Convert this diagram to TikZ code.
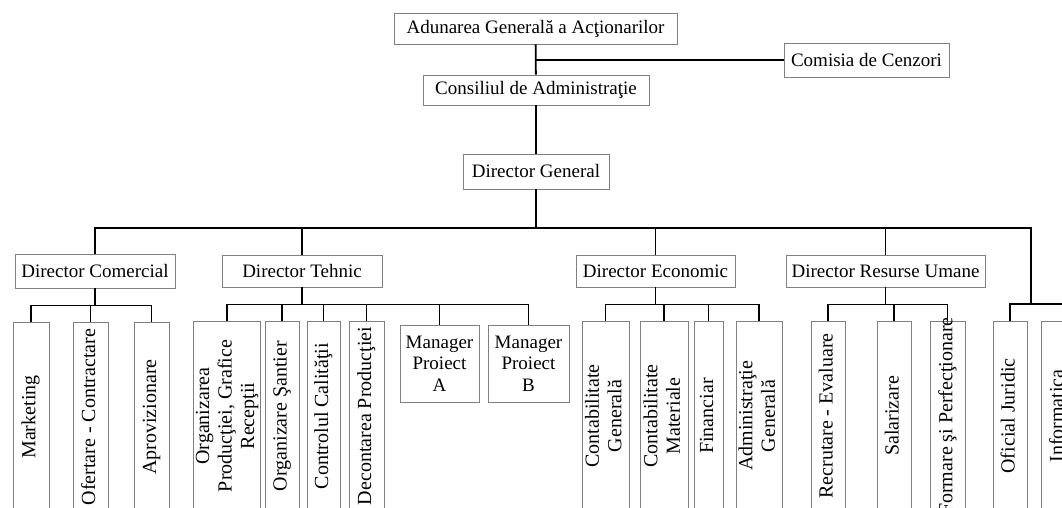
\documentclass[tikz,border=0pt]{standalone}
\usepackage{fontspec}
\setmainfont{Liberation Serif}
\usetikzlibrary{positioning}

\newcommand{\vtext}[1]{\rotatebox{90}{\begin{tabular}{@{}c@{}}#1\end{tabular}}}

\tikzset{
  box/.style={draw=black!50, line width=0.8pt, fill=white, inner sep=0pt, align=center},
  vbox/.style={box, minimum height=190pt, font=\fontsize{20}{22.5}\selectfont},
  link/.style={line width=1.8pt, black},
}

\begin{document}
\begin{tikzpicture}[x=1pt, y=-1pt, font=\fontsize{19}{21.5}\selectfont]
  \useasboundingbox (0,0) rectangle (1062,508);
  \clip (0,0) rectangle (1062,508);

  % conducere
  \node[box, minimum width=283pt, minimum height=31pt] (AGA) at (535.5,28.5) {Adunarea Generală a Acţionarilor};
  \node[box, minimum width=165pt, minimum height=34pt] (CC)  at (866.5,60)   {Comisia de Cenzori};
  \node[box, minimum width=226pt, minimum height=30pt] (CA)  at (536,90)     {Consiliul de Administraţie};
  \node[box, minimum width=146pt, minimum height=35pt] (DG)  at (536,171.5)  {Director General};

  % directori
  \node[box, minimum width=160pt, minimum height=34pt] (DirCom) at (95,271)    {Director Comercial};
  \node[box, minimum width=160pt, minimum height=32pt] (DirTeh) at (302,271)   {Director Tehnic};
  \node[box, minimum width=159pt, minimum height=32pt] (DirEco) at (655.5,271) {Director Economic};
  \node[box, minimum width=199pt, minimum height=32pt] (DirRU)  at (885.5,271) {Director Resurse Umane};

  % compartimente comerciale
  \node[vbox, minimum width=36pt] (Mk) at (31,417)    {\vtext{Marketing}};
  \node[vbox, minimum width=35pt] (Of) at (90.5,417)  {\vtext{Ofertare - Contractare}};
  \node[vbox, minimum width=35pt] (Ap) at (151.5,417) {\vtext{Aprovizionare}};

  % compartimente tehnice
  \node[vbox, minimum width=66pt] (OP) at (227,416)   {\vtext{Organizarea\\Producţiei, Grafice\\Recepţii}};
  \node[vbox, minimum width=34pt] (OS) at (282,416)   {\vtext{Organizare Şantier}};
  \node[vbox, minimum width=33pt] (CQ) at (323.5,416) {\vtext{Controlul Calităţii}};
  \node[vbox, minimum width=35pt] (DP) at (366.5,416) {\vtext{Decontarea Producţiei}};
  \node[box, minimum width=79pt, minimum height=77pt] (MA) at (439.5,363.5) {Manager\\Proiect\\A};
  \node[box, minimum width=81pt, minimum height=77pt] (MB) at (528.5,363.5) {Manager\\Proiect\\B};

  % compartimente economice
  \node[vbox, minimum width=47pt] (CG)  at (605.5,416) {\vtext{Contabilitate\\Generală}};
  \node[vbox, minimum width=48pt] (CM)  at (664,416)   {\vtext{Contabilitate\\Materiale}};
  \node[vbox, minimum width=29pt] (Fin) at (708.5,416) {\vtext{Financiar}};
  \node[vbox, minimum width=46pt] (AG)  at (759,416)   {\vtext{Administraţie\\Generală}};

  % resurse umane
  \node[vbox, minimum width=34pt] (RE)  at (828,416)    {\vtext{Recrutare - Evaluare}};
  \node[vbox, minimum width=34pt] (Sal) at (894,416)    {\vtext{Salarizare}};
  \node[vbox, minimum width=35pt] (FP)  at (947.5,416)  {\rotatebox{90}{\makebox[190pt]{Formare şi Perfecţionare}}};

  % subordonare directa
  \node[vbox, minimum width=34pt] (OJ)  at (1010,416)   {\vtext{Oficial Juridic}};
  \node[vbox, minimum width=35pt] (Inf) at (1058.5,416) {\vtext{Informatica}};

  % legaturi
  \coordinate (bus) at (536,228);
  \coordinate (jur) at (1031,304);

  \draw[link] (AGA) -- (CA);
  \draw[link] (CA) -- (DG);
  \draw[link] (CC.west) -- (CC.west -| AGA.south);

  \draw[link] (DG) -- (DG.south |- bus);
  \draw[link] (DirCom.north) |- (jur |- bus) -- (jur);
  \foreach \d in {DirTeh,DirEco,DirRU}
    \draw[link] (\d.north) -- (\d.north |- bus);

  \foreach \d/\kids in {DirCom/{Mk,Of,Ap}, DirTeh/{OP,OS,CQ,DP,MA,MB},
                        DirEco/{CG,CM,Fin,AG}, DirRU/{RE,Sal,FP}} {
    \draw[link] (\d.south) -- ++(0,17) coordinate (sub);
    \foreach \k in \kids
      \draw[link] (\k.north) |- (sub);
  }

  \draw[link] (OJ.north) |- (jur);
  \draw[link] ([xshift=8pt]Inf.north) |- (jur);

\end{tikzpicture}
\end{document}
